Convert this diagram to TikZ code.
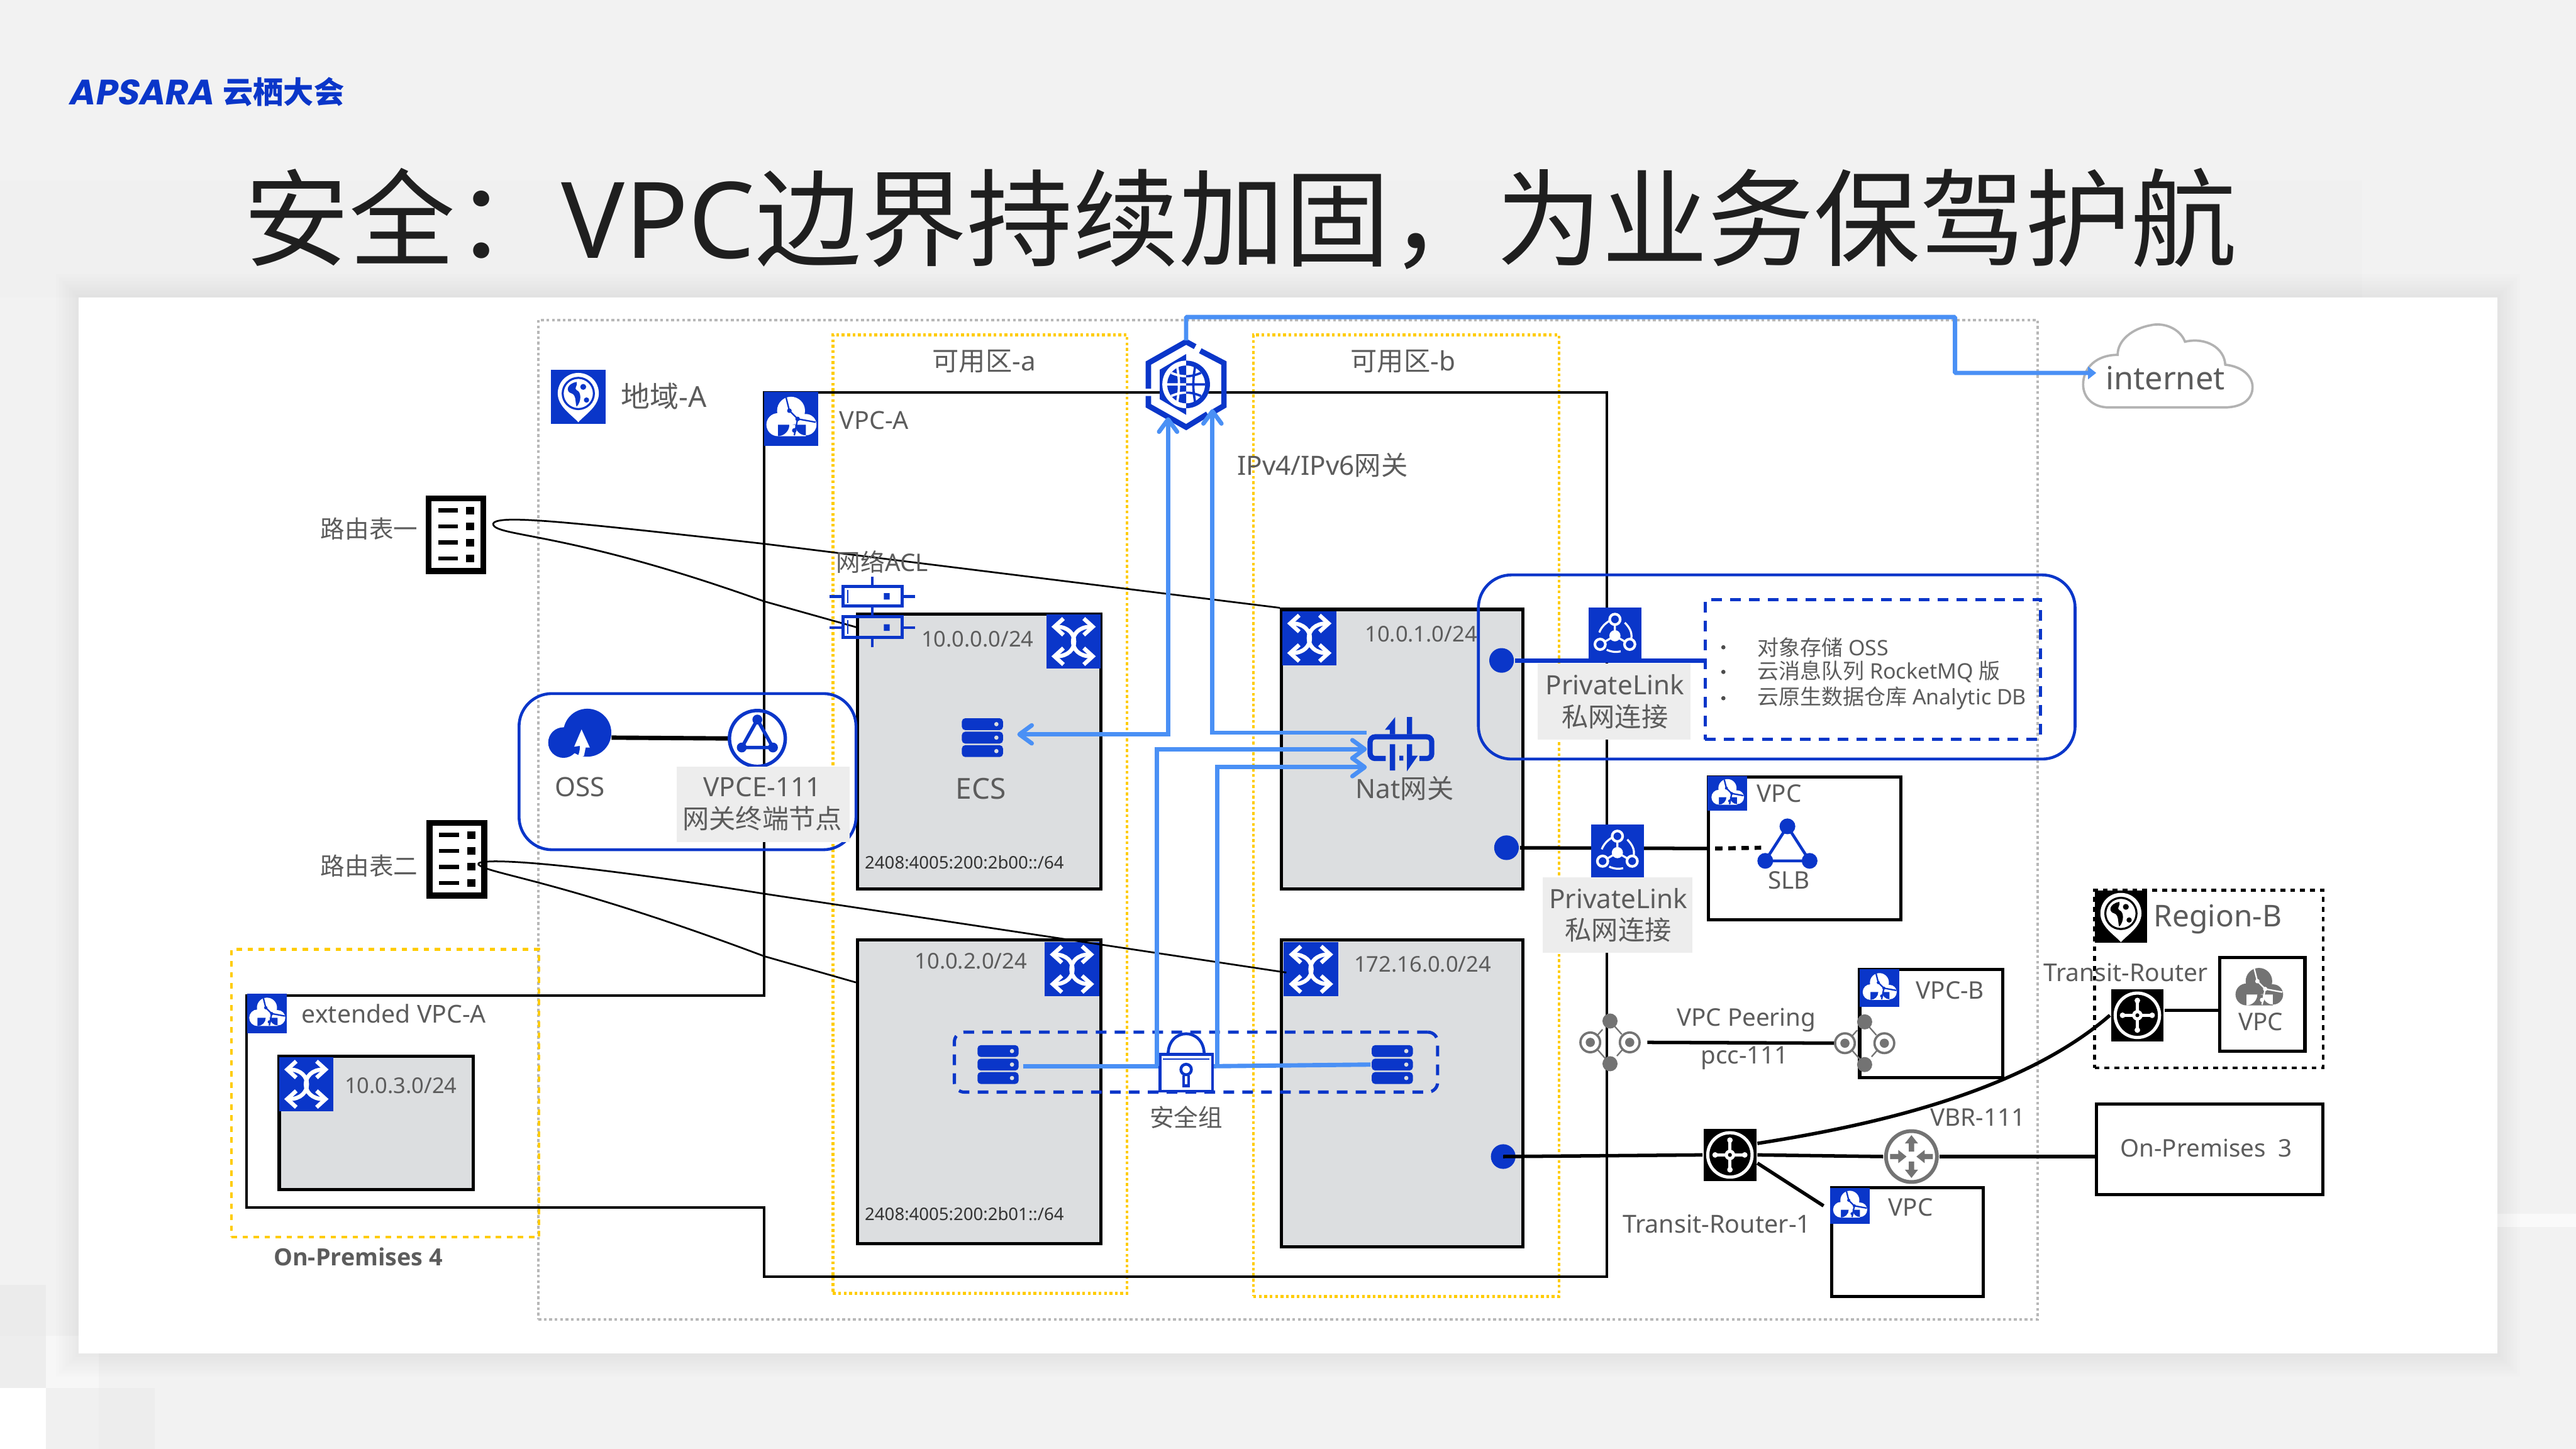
\documentclass[tikz,border=0pt]{standalone}
\usepackage{fontspec}
\usepackage{xcolor}
\usetikzlibrary{arrows.meta, positioning, calc}
\setmainfont{Noto Sans}
\newfontfamily\cjk{Noto Sans CJK SC}
\newfontfamily\boldlab{Open Sans}
\newfontfamily\logofont[FakeSlant=0.18]{Poppins Bold}
\definecolor{alblue}{HTML}{0A36C9}
\definecolor{flowblue}{HTML}{4A90F5}
\definecolor{txtgray}{HTML}{5C5C5C}
\definecolor{subgray}{HTML}{DCDEE0}
\definecolor{azyellow}{HTML}{FFCC00}
\definecolor{icogray}{HTML}{737373}

\begin{document}
\begin{tikzpicture}[
    x=0.01cm, y=-0.01cm,
    lab/.style={inner sep=0, text=txtgray, font=\fontsize{4.2}{5}\selectfont, align=center},
    labm/.style={lab, font=\fontsize{4.6}{5.5}\selectfont},
    labn/.style={lab, font=\fontsize{3.75}{4.5}\selectfont},
    labs/.style={lab, font=\fontsize{3.7}{4.4}\selectfont},
    labv/.style={lab, text=black!80, font=\fontsize{3}{4}\selectfont},
    subnet/.style={draw, fill=subgray, line width=.55pt, inner sep=0},
    wbox/.style={draw, fill=white, line width=.55pt, inner sep=0},
    ico/.style={fill=alblue, inner sep=0, minimum size=.33cm},
    blk/.style={fill=black, inner sep=0, minimum width=.32cm, minimum height=.32cm},
    ghost/.style={inner sep=0},
    greybg/.style={fill=black!7, inner sep=0},
    grp/.style={draw=alblue, line width=.5pt, rounded corners=.2cm, inner sep=0},
    dashbox/.style={draw=alblue, line width=.55pt, dash pattern=on .65mm off .5mm, inner sep=0},
    az/.style={draw=azyellow, line width=.5pt, dash pattern=on .17mm off .16mm, inner sep=0},
    rtable/.style={draw, fill=white, line width=1.05pt, minimum width=.333cm, minimum height=.442cm, inner sep=0},
    dot/.style={circle, fill=alblue, inner sep=0, minimum size=.15cm},
    flow/.style={draw=flowblue, line width=.75pt},
    barb/.tip={Straight Barb[length=.75mm, width=1.1mm, round]},
    lnk/.style={line width=.6pt},
    pics/swicon/.style={code={
      \draw[white, line width=.7pt, {Straight Barb[length=.55mm, width=1mm]}-{Straight Barb[length=.55mm, width=1mm]}] (-13.5,-9) .. controls (4,-9) and (4,9) .. (-13.5,9);
      \draw[white, line width=.7pt, {Straight Barb[length=.55mm, width=1mm]}-{Straight Barb[length=.55mm, width=1mm]}] (13.5,-9) .. controls (-4,-9) and (-4,9) .. (13.5,9);
    }},
    pics/vpccloud/.style 2 args={code={
      \fill[#1] (-8,3.5) circle[radius=7] (0,-5) circle[radius=8.5] (9,3.5) circle[radius=6.5] (-8,3.5) rectangle (9,10.5);
      \draw[#2, line width=.25pt] (-3,-13) -- (-1,-5) -- (4,0) -- (15,2) (4,0) -- (2,10);
      \fill[#2] (-1,-5) circle[radius=1.4] (4,0) circle[radius=1.4] (2,7) circle[radius=1.4];
    }},
    pics/pinicon/.style={code={
      \fill[white] (0,15.5) .. controls (-4,11) and (-12.5,6) .. (-12.5,-2) .. controls (-12.5,-9) and (-7,-14.5) .. (0,-14.5) .. controls (7,-14.5) and (12.5,-9) .. (12.5,-2) .. controls (12.5,6) and (4,11) .. cycle;
      \draw[#1, line width=.35pt] (0,-2) circle[radius=9.5];
      \fill[#1] (-1,-9) .. controls (-7,-8) and (-8,-3) .. (-4,-2) .. controls (-1,-1) and (-2,4) .. (-1,6) .. controls (2,3) and (2,-3) .. (-1,-4) .. controls (-3,-5) and (0,-7) .. cycle;
      \fill[#1] (3,-6) circle[radius=1.8] (5,2) circle[radius=1.6];
    }},
    pics/routericon/.style={code={
      \draw[white, line width=.55pt] (0,0) circle[radius=13.5];
      \draw[white, line width=.5pt, line cap=round] (-9,0) -- (9,0) (0,-9) -- (0,9);
      \fill[white] (-9,0) circle[radius=1.7] (9,0) circle[radius=1.7] (0,-9) circle[radius=1.7] (0,9) circle[radius=1.7] (0,0) circle[radius=3.2];
      \fill[black] (0,0) circle[radius=1.2];
    }},
    pics/vbricon/.style={code={
      \draw[icogray, fill=white, line width=.65pt] (0,0) circle[radius=15.5];
      \foreach \a in {0,180}
        \fill[icogray, rotate=\a] (-1.6,-3) -- (-1.6,-8) -- (-4,-8) -- (0,-13) -- (4,-8) -- (1.6,-8) -- (1.6,-3) -- cycle;
      \foreach \a in {90,270}
        \fill[icogray, rotate=\a] (-1.6,-13) -- (-1.6,-8) -- (-4,-8) -- (0,-3) -- (4,-8) -- (1.6,-8) -- (1.6,-13) -- cycle;
    }},
    pics/peericon/.style={code={
      \draw[icogray, line width=.25pt, densely dashed] (-11.5,0) -- (0,-13) -- (11.5,0) -- (0,13) -- cycle;
      \draw[icogray, fill=white, line width=.4pt] (-12,0) circle[radius=6] (12,0) circle[radius=6];
      \fill[icogray] (-12,0) circle[radius=2.8] (12,0) circle[radius=2.8] (0,-13) circle[radius=4.6] (0,13) circle[radius=4.6];
    }},
    pics/linkicon/.style={code={
      \draw[white, line width=.45pt] (0,-9) circle[radius=3.2] (-9,6.2) circle[radius=3.2] (9,6.2) circle[radius=3.2];
      \fill[white] (0,1) circle[radius=3.4];
      \draw[white, line width=.35pt] (0,-6) -- (0,1) -- (-6,4.5) (0,1) -- (6,4.5);
      \draw[white, line width=.35pt] (-9.5,-1) .. controls (-8.5,-4) and (-6,-6.5) .. (-3.5,-8);
      \draw[white, line width=.35pt] (6,-7) .. controls (9,-4) and (10.5,-1) .. (10,2.5);
      \draw[white, line width=.35pt] (-5,9.5) .. controls (-2,11) and (1,11) .. (3.5,10.5);
    }},
    pics/tableicon/.style={code={
      \foreach \y in {-14.8,-5,4.7,14.5} {
        \fill[black] (-10.8,\y-1.2) rectangle (1.3,\y+1.2);
        \fill[black] (6.3,\y-2.3) rectangle (11.3,\y+2.3);
      }
    }},
    pics/servericon/.style={code={
      \foreach \y in {-8.2,0,8.2} {
        \fill[alblue, rounded corners=.2mm] (-12.5,\y-3.6) rectangle (12.5,\y+3.6);
        \fill[subgray] (8.5,\y) circle[radius=1.3];
      }
    }},
    pics/aclicon/.style={code={
      \draw[alblue, line width=.5pt] (0,-21) -- (0,-15) (0,-3) -- (0,3.5) (0,16) -- (0,22) (-26,-9) -- (-18,-9) (18,-9) -- (26,-9) (-26,10) -- (-18,10) (18,10) -- (26,10);
      \draw[alblue, line width=.55pt] (-18,-15) rectangle (18,-3) (-18,3.5) rectangle (18,16);
      \draw[alblue, line width=.2pt] (-15,-13) -- (-15,-5) (-15,5.5) -- (-15,14);
      \fill[alblue] (7,-11) rectangle (10.5,-7) (7,8) rectangle (10.5,12);
    }},
    pics/igwicon/.style={code={
      \fill[alblue] (0,-18.5) -- (-16,-9) -- (-16,9) -- (0,18.5) -- cycle;
      \draw[alblue, line width=.95pt] (-23,2.5) -- (-23,-13) -- (0,-26) -- (5.5,-23);
      \draw[alblue, line width=.95pt] (8.6,-20.5) -- (23,-13) -- (23,13) -- (17,16.5);
      \draw[alblue, line width=.95pt] (13,18) -- (0,26) -- (-23,13) -- (-23,7);
      \fill[white] (0,0) circle[radius=14.5];
      \fill[alblue] (0,-14.5) arc[start angle=-90, end angle=90, radius=14.5] -- cycle;
      \fill[white] (0,-11.5) arc[start angle=-90, end angle=90, radius=11.5] -- cycle;
      \fill[alblue] (0,-11.5) arc[start angle=-90, end angle=-270, radius=11.5] -- cycle;
      \draw[white, line width=.4pt] (-11.5,0) -- (0,0) (-5.5,-11) .. controls (-4,-3) and (-4,3) .. (-5.5,11) (-9,-7) .. controls (-4,-5) and (-2,-5) .. (0,-5) (-9,7) .. controls (-4,5) and (-2,5) .. (0,5);
      \draw[alblue, line width=.4pt] (11.5,0) -- (0,0) (5.5,-11) .. controls (4,-3) and (4,3) .. (5.5,11) (9,-7) .. controls (4,-5) and (2,-5) .. (0,-5) (9,7) .. controls (4,5) and (2,5) .. (0,5);
    }},
    pics/naticon/.style={code={
      \draw[alblue, line width=.9pt, rounded corners=.3mm] (-9.5,8.7) -- (-19,8.7) -- (-19,-4.5) -- (18.5,-4.5) -- (18.5,8.7) -- (11,8.7);
      \fill[alblue] (-10,-8.8) -- (-3.8,-16.5) -- (-3.8,-6) -- (-7,-6) -- (-7,-8.8) -- cycle;
      \fill[alblue] (-7,0) rectangle (-3.8,16) (3.4,-16.5) rectangle (6.6,-6) (3.4,0) rectangle (6.6,8) (-1.2,7) rectangle (1.2,10);
      \fill[alblue] (3.4,7) -- (10,7) -- (3.4,16.5) -- cycle;
    }},
    pics/lockicon/.style={code={
      \draw[alblue, line width=.5pt] (-11,-11) .. controls (-11,-28) and (11,-28) .. (11,-11);
      \draw[alblue, line width=.2pt] (-14,-8.5) -- (14,-8.5);
      \draw[alblue, line width=.5pt] (0,-2) circle[radius=3.2];
      \draw[alblue, line width=.5pt] (-1.5,1.5) -- (-1.5,8) -- (1.5,8) -- (1.5,1.5);
    }},
    pics/ossicon/.style={code={
      \fill[alblue] (4.5,-3) circle[radius=14.6] (-10,3) circle[radius=9.3];
      \fill[white] (1,-5) -- (6,6) -- (3.5,6) -- (2.5,11) -- (-2,13) .. controls (-.5,10) and (0,8) .. (0,5) -- (-3.5,5.5) -- cycle;
    }},
    pics/vpceicon/.style={code={
      \draw[alblue, line width=.6pt] (0,0) circle[radius=17];
      \draw[alblue, line width=.6pt] (0,-11.5) -- (9.5,5.5) -- (-9.5,5.5) -- cycle;
      \fill[alblue] (0,-11.5) circle[radius=3] (9.5,5.5) circle[radius=3] (-9.5,5.5) circle[radius=3];
    }},
    pics/slbicon/.style={code={
      \draw[alblue, line width=.5pt] (0,-10) -- (13.5,11) -- (-13.5,11) -- cycle;
      \fill[alblue] (0,-10) circle[radius=4.8] (13.5,11) circle[radius=4.8] (-13.5,11) circle[radius=4.8];
    }},
    >=barb]

  % page and panel
  \fill[black!5] (0,0) rectangle (1568,882);
  \useasboundingbox (0,0) rectangle (1568,882);
  \fill[black!6] (0,110) rectangle (1438,181);
  \fill[black!8] (0,782) rectangle (28,813);
  \fill[black!7] (0,813) rectangle (28,845);
  \fill[black!3] (28,813) rectangle (60,845);
  \fill[white] (0,845) rectangle (28,882);
  \fill[black!6] (28,845) rectangle (60,882);
  \fill[black!7] (60,845) rectangle (94,882);
  \fill[black!2] (1520,739) rectangle (1568,747);
  \foreach \s in {2,4,...,14}
    \fill[black, opacity=.006] (48-\s,181-\s) rectangle (1520+\s,824+\s);
  \fill[white] (48,181) rectangle (1520,824);

  % logo and title
  \node[inner sep=0, text=alblue, font=\logofont\fontsize{6.1}{7}\selectfont, anchor=west] (logoA) at (41,56) {APSARA};
  \node[inner sep=0, text=alblue, font=\cjk\bfseries\fontsize{5.25}{6}\selectfont, anchor=west] (logoB) at (135,56) {云栖大会};
  \node[inner sep=0, text=black!88, font=\fontsize{18.32}{22}\selectfont] (title) at (755,133) {{\cjk 安全：}VPC{\cjk 边界持续加固，为业务保驾护航}};

  % regions and zones
  \node[draw=black!28, line width=.45pt, dash pattern=on .17mm off .16mm, minimum width=9.12cm, minimum height=6.08cm, inner sep=0] (regA) at (784,499) {};
  \node[az, minimum width=1.79cm, minimum height=5.83cm] (azA) at (596.5,495.5) {};
  \node[az, minimum width=1.86cm, minimum height=5.85cm] (azB) at (856,496.5) {};
  \node[draw=azyellow, line width=.5pt, dash pattern=on .33mm off .34mm, minimum width=1.87cm, minimum height=1.75cm, inner sep=0] (azC) at (234.5,665.5) {};
  \draw[line width=.45pt] (465,239) -- (978,239) -- (978,777) -- (465,777) -- (465,735) -- (150,735) -- (150,606) -- (465,606) -- cycle;

  % subnets
  \node[subnet, minimum width=1.48cm, minimum height=1.67cm] (subA) at (596,457.5) {};
  \node[subnet, minimum width=1.47cm, minimum height=1.70cm] (subB) at (853.5,456) {};
  \node[subnet, minimum width=1.48cm, minimum height=1.85cm] (subC) at (596,664.5) {};
  \node[subnet, minimum width=1.47cm, minimum height=1.87cm] (subD) at (853.5,665.5) {};
  \node[subnet, minimum width=1.18cm, minimum height=.81cm] (subE) at (229,683.5) {};
  \node[ico] (swA) at (653.5,390.5) {};
  \node[ico] (swB) at (797,388.5) {};
  \node[ico] (swC) at (652.5,590) {};
  \node[ico] (swD) at (798,590) {};
  \node[ico] (swE) at (186.5,660) {};
  \foreach \n in {swA,swB,swC,swD,swE}
    \pic at (\n) {swicon};
  \node[labn] (lbA) at (595,389) {10.0.0.0/24};
  \node[labn] (lbB) at (865,386) {10.0.1.0/24};
  \node[labn] (lbC) at (591,585) {10.0.2.0/24};
  \node[labn] (lbD) at (866,587) {172.16.0.0/24};
  \node[labn] (lbE) at (244,661) {10.0.3.0/24};
  \node[labv] (lbAv) at (587,525) {2408:4005:200:2b00::/64};
  \node[labv] (lbCv) at (587,739) {2408:4005:200:2b01::/64};

  % vpc icons on the left
  \node[ico, minimum width=.33cm, minimum height=.33cm] (icRegA) at (352,241.5) {};
  \pic at (icRegA) {pinicon=alblue};
  \node[inner sep=0, text=txtgray, font=\fontsize{5}{6}\selectfont] (lbRegA) at (404,241) {{\cjk 地域}-A};
  \node[ico] (icVpcA) at (481.5,255) {};
  \pic at (icVpcA) {vpccloud={white}{alblue}};
  \node[lab, font=\fontsize{4.3}{5}\selectfont] (lbVpcA) at (532,256) {VPC-A};
  \node[ico, minimum size=.24cm] (icVpcX) at (162.5,617) {};
  \pic[scale=.72] at (icVpcX) {vpccloud={white}{alblue}};
  \node[lab, anchor=west, font=\fontsize{4.27}{5}\selectfont] (lbVpcX) at (183,617) {extended VPC-A};
  \node[lab, font=\boldlab\bfseries\fontsize{4.1}{5}\selectfont] (lbOn4) at (218,765) {On-Premises 4};
  \node[labm] (lbAzA) at (599,220) {{\cjk 可用区}-a};
  \node[labm] (lbAzB) at (854,220) {{\cjk 可用区}-b};
  \node[labm] (lbIgw) at (805,283) {IPv4/IPv6{\cjk 网关}};

  % route tables
  \node[rtable] (rtA) at (277.5,325.5) {};
  \node[rtable] (rtB) at (278,523) {};
  \pic at (rtA) {tableicon};
  \pic at (rtB) {tableicon};
  \node[lab, anchor=east] (lbRtA) at (255,322) {\cjk 路由表一};
  \node[lab, anchor=east] (lbRtB) at (255,527) {\cjk 路由表二};
  \coordinate (tipA) at (300,319);
  \coordinate (tipB) at (291,526);
  \draw[line width=.3pt] (tipA) .. controls (302,313) and (340,317) .. (465,331) -- (subB.north west);
  \draw[line width=.3pt] (tipA) .. controls (302,327) and (345,323) .. (465,366) -- (522,382);
  \draw[line width=.3pt] (tipB) .. controls (291,522) and (340,524) .. (465,544) -- (783,592);
  \draw[line width=.3pt] (tipB) .. controls (296,532) and (340,535) .. (465,582) -- (521,598);

  % acl
  \coordinate (acl) at (531,372);
  \pic at (acl) {aclicon};
  \node[lab] (lbAcl) at (537,342) {{\cjk 网络}ACL};

  % oss endpoint group
  \node[grp, minimum width=2.05cm, minimum height=.95cm] (grpOss) at (418.5,469.7) {};
  \node[ghost, minimum width=.33cm, minimum height=.3cm] (oss) at (353,449) {};
  \node[ghost, minimum width=.34cm, minimum height=.34cm] (vpce) at (461,449.5) {};
  \draw[lnk, line width=.75pt] (oss.east) ++(2,0) -- (vpce.west);
  \pic at (oss) {ossicon};
  \pic at (vpce) {vpceicon};
  \node[labm] (lbOss) at (353,479) {OSS};
  \node[greybg, minimum width=1.055cm, minimum height=.46cm] (bgVpce) at (464.5,489.7) {};
  \node[labm] (lbVpce) at (464,489.5) {VPCE-111\\{\cjk 网关终端节点}};

  % gateways and servers
  \node[ghost, minimum width=.46cm, minimum height=.52cm] (igw) at (722,234) {};
  \pic at (igw) {igwicon};
  \node[ghost, minimum width=.25cm, minimum height=.24cm] (ecs) at (598,449) {};
  \pic at (ecs) {servericon};
  \node[lab, font=\fontsize{5}{6}\selectfont] (lbEcs) at (597,480) {ECS};
  \node[ghost, minimum width=.42cm, minimum height=.34cm] (nat) at (853,453) {};
  \pic at (nat) {naticon};
  \node[labm] (lbNat) at (855,480) {Nat{\cjk 网关}};
  \node[ghost, minimum width=.25cm, minimum height=.24cm] (srvL) at (607.5,648) {};
  \node[ghost, minimum width=.25cm, minimum height=.24cm] (srvR) at (847.5,648) {};
  \pic at (srvL) {servericon};
  \pic at (srvR) {servericon};
  \node[dashbox, rounded corners=.06cm, minimum width=2.94cm, minimum height=.365cm] (sg) at (728,646.5) {};

  % internet
  \draw[draw=black!30, line width=.4pt, fill=white] (1283.5,248) -- (1354,248) .. controls (1366,248) and (1372,242) .. (1371,234) .. controls (1370,228) and (1364,223) .. (1354.5,222) .. controls (1354,212) and (1343,205) .. (1330,208) .. controls (1327,200) and (1317,196) .. (1309,198) .. controls (1298,200) and (1289,207) .. (1289,216) .. controls (1276,216) and (1268,224) .. (1268,234) .. controls (1268,242) and (1274,248) .. (1283.5,248) -- cycle;
  \node[inner sep=0, text=txtgray, font=\fontsize{5.5}{6.5}\selectfont] (inet) at (1318,230) {internet};
  \coordinate (inetIn) at (1276,227);

  % blue flows
  \coordinate (igwL) at (711,254);
  \coordinate (igwR) at (738,249);
  \coordinate (natT) at (832,446);
  \coordinate (natM) at (832,456);
  \coordinate (natB) at (832,467);
  \node[draw=alblue, fill=white, line width=.5pt, minimum width=.32cm, minimum height=.225cm, inner sep=0] (lock) at (722,653) {};
  \pic at (lock) {lockicon};
  \draw[flow, -{Triangle[length=.5mm, width=.75mm]}, rounded corners=.05mm] (igw.north) |- (1190,193) |- (inetIn);
  \draw[flow, <->] (ecs.east) ++(8,-2) -| (igwL);
  \draw[flow, ->] (natT) -| (igwR);
  \draw[flow, ->] (lock.north west) ++(-1,8) |- (natM);
  \draw[flow, ->] (lock.north east) ++(2,8) |- (natB);
  \draw[flow] (srvL.east) ++(2,1) -- (lock.west |- 0,649);
  \draw[flow] (lock.east |- 0,649) -- (srvR.west);
  \node[lab] (lbSg) at (722,680) {\cjk 安全组};

  % privatelink to services
  \node[grp, minimum width=3.63cm, minimum height=1.12cm] (grpPl) at (1081.5,406) {};
  \node[dot] (dotA) at (914,402) {};
  \node[dashbox, minimum width=2.04cm, minimum height=.85cm] (svc) at (1140,407.5) {};
  \draw[draw=alblue, line width=.75pt] (dotA) -- (svc.west |- dotA);
  \node[ico, minimum width=.32cm, minimum height=.32cm] (plA) at (983,386) {};
  \pic at (plA) {linkicon};
  \node[greybg, minimum width=.93cm, minimum height=.46cm] (bgPlA) at (982.5,427) {};
  \node[labm] (lbPlA) at (983,427) {PrivateLink\\{\cjk 私网连接}};
  \foreach \y/\t in {394/{\cjk 对象存储} OSS, 409/{\cjk 云消息队列} RocketMQ {\cjk 版}, 425/{\cjk 云原生数据仓库} Analytic DB} {
    \fill[black!70] (1049,\y) circle[radius=1.3];
    \node[labs, anchor=west] at (1069,\y) {\t};
  }

  % slb vpc
  \node[wbox, minimum width=1.17cm, minimum height=.87cm] (vpcS) at (1098.5,516.5) {};
  \node[ico, minimum width=.24cm, minimum height=.21cm] (icVpcS) at (1051.5,483) {};
  \pic[scale=.65] at (icVpcS) {vpccloud={white}{alblue}};
  \node[lab] (lbVpcS) at (1083,483) {VPC};
  \node[dot] (dotB) at (917,516) {};
  \draw[lnk] (dotB) -- (vpcS.west);
  \coordinate (slb) at (1088,513);
  \draw[lnk, line width=.7pt, dash pattern=on .45mm off .35mm] (vpcS.west) ++(5,0) -- (1072,516);
  \pic at (slb) {slbicon};
  \node[lab] (lbSlb) at (1089,536) {SLB};
  \node[ico, minimum width=.32cm, minimum height=.32cm] (plB) at (984.5,518) {};
  \pic at (plB) {linkicon};
  \node[greybg, minimum width=.91cm, minimum height=.46cm] (bgPlB) at (984.5,557) {};
  \node[labm] (lbPlB) at (985,557) {PrivateLink\\{\cjk 私网连接}};

  % peering
  \node[wbox, minimum width=.87cm, minimum height=.66cm] (vpcB) at (1175.5,623) {};
  \node[ico, minimum width=.24cm, minimum height=.23cm] (icVpcB) at (1144,601.5) {};
  \pic[scale=.68] at (icVpcB) {vpccloud={white}{alblue}};
  \node[lab] (lbVpcB) at (1187,603) {VPC-B};
  \node[ghost, minimum width=.24cm, minimum height=.12cm] (peerA) at (980,634.5) {};
  \node[ghost, minimum width=.24cm, minimum height=.12cm] (peerB) at (1135,635) {};
  \draw[lnk] (peerA.east) ++(10,0) -- (peerB.west);
  \pic at (peerA) {peericon};
  \pic at (peerB) {peericon};
  \node[lab] (lbPeer) at (1063,621) {VPC Peering};
  \node[lab] (lbPcc) at (1062,644) {pcc-111};

  % transit routers
  \node[blk] (trA) at (1053,703) {};
  \pic at (trA) {routericon};
  \node[lab, font=\fontsize{4.3}{5}\selectfont] (lbTrA) at (1045,745) {Transit-Router-1};
  \node[ghost, minimum size=.33cm] (vbr) at (1163.5,704) {};
  \node[wbox, minimum width=1.38cm, minimum height=.55cm] (onp) at (1345,699.5) {};
  \node[lab] (lbOnp) at (1343,699) {On-Premises\ \ 3};
  \node[wbox, minimum width=.92cm, minimum height=.66cm] (vpcL) at (1161,756) {};
  \node[ico, minimum width=.24cm, minimum height=.22cm] (icVpcL) at (1126,734) {};
  \pic[scale=.68] at (icVpcL) {vpccloud={white}{alblue}};
  \node[lab] (lbVpcL) at (1163,735) {VPC};
  \node[dot] (dotC) at (915,704) {};
  \coordinate (vpcLin) at (1110,734);
  \draw[lnk] (dotC.center) -- (trA.west);
  \draw[lnk] (trA.east) -- (vbr.west);
  \draw[lnk] (vbr.east) -- (vbr.east -| onp.west);
  \draw[lnk] ([yshift=-.05cm]trA.east) -- (vpcLin);
  \pic at (vbr) {vbricon};
  \node[lab] (lbVbr) at (1204,680) {VBR-111};

  % region b
  \node[draw, line width=.5pt, dash pattern=on .3mm off .3mm, minimum width=1.39cm, minimum height=1.08cm, inner sep=0] (regB) at (1344.5,596) {};
  \node[blk] (icRegB) at (1291,558) {};
  \pic at (icRegB) {pinicon=black};
  \node[inner sep=0, text=txtgray, font=\fontsize{5.2}{6}\selectfont] (lbRegB) at (1350,559.5) {Region-B};
  \node[wbox, minimum width=.52cm, minimum height=.57cm] (vpcR) at (1377,611.5) {};
  \coordinate (icVpcR) at (1375,602);
  \pic[scale=.95] at (icVpcR) {vpccloud={icogray}{white}};
  \node[lab] (lbVpcR) at (1376,622) {VPC};
  \node[blk] (trB) at (1301,618) {};
  \pic at (trB) {routericon};
  \node[lab, font=\fontsize{4.25}{5}\selectfont] (lbTrB) at (1294,592) {Transit-Router};
  \draw[lnk] ([yshift=.03cm]trB.east) -- ([yshift=.03cm]trB.east -| vpcR.west);
  \draw[lnk] ([yshift=.07cm]trA.east) .. controls (1140,685) and (1230,665) .. (trB.west);
\end{tikzpicture}
\end{document}
